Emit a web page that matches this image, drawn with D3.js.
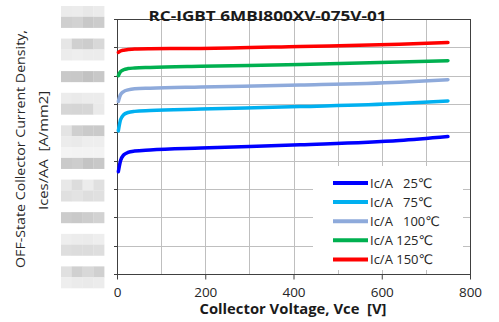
<!DOCTYPE html>
<html>
<head>
<meta charset="utf-8">
<script src="https://cdn.jsdelivr.net/npm/d3@7/dist/d3.min.js"></script>
<style>
  html, body { margin: 0; padding: 0; background: #fff; }
  svg { display: block; font-family: "Open Sans", "DejaVu Sans", sans-serif; }
  .legend-label { white-space: pre; }
</style>
</head>
<body>
<div id="chart"></div>
<script>
// voltage points (V) shared by all curves
const voltages = [3, 8, 15, 25, 40, 75, 190, 415, 640, 750];

// Ices/AA, in grid steps above the bottom line
const ices25 = [3.61, 4.00, 4.20, 4.29, 4.34, 4.38, 4.45, 4.56, 4.71, 4.85];
const ices75 = [5.05, 5.44, 5.62, 5.70, 5.74, 5.77, 5.82, 5.91, 6.02, 6.11];
const ices100 = [6.09, 6.33, 6.44, 6.50, 6.54, 6.56, 6.60, 6.67, 6.77, 6.86];
const ices125 = [7.00, 7.14, 7.21, 7.25, 7.27, 7.29, 7.33, 7.39, 7.48, 7.53];
const ices150 = [7.82, 7.87, 7.90, 7.92, 7.94, 7.95, 7.96, 8.03, 8.11, 8.17];

const seriesNames = ['Ic/A   25\u2103', 'Ic/A   75\u2103', 'Ic/A   100\u2103', 'Ic/A 125\u2103', 'Ic/A 150\u2103'];
const seriesColors = ['#0000ff', '#00b0f0', '#8eaadb', '#00b050', '#ff0000'];
const seriesValues = [ices25, ices75, ices100, ices125, ices150];

const xTicks = [0, 200, 400, 600, 800];
const xGrid = [100, 200, 300, 400, 500, 600, 700];
const yGrid = [0, 1, 2, 3, 4, 5, 6, 7, 8, 9];

// the y tick labels are blurred out in the source: grey mosaic rows, 4 cells each ('' = blank row)
const mosaicRows = [
  'ebece8eb', 'cfd2c8cc', '', 'e6d0cdd8', 'eceeecec', '', 'c9c8c2c8', '', 'eceaecec', 'd6d5d6ea',
  '', 'e4cfcaca', 'eceaeeee', 'f4f3f3f3', 'cacdc4c8', '', 'e8dcece0', 'e0e3dee0', '', 'ccc9cdd2',
  '', 'eeecebee', 'dedcdcde', '', 'e0d0d8d0', 'eeebeaec'
];

const W = 499, H = 322;
const margin = { top: 19, right: 29, bottom: 48, left: 117 };
const iw = W - margin.left - margin.right;
const ih = H - margin.top - margin.bottom;

const svg = d3.select('#chart').append('svg')
  .attr('width', W).attr('height', H);

const x = d3.scaleLinear().domain([0, 800]).range([margin.left, margin.left + iw]);
const y = d3.scaleLinear().domain([0, 9]).range([margin.top + ih, margin.top]);

// mosaic in place of y tick labels
const cellW = 10.8, cellH = 10.85, mosaicX = 61, mosaicY = 6;
mosaicRows.forEach((row, i) => {
  if (!row) return;
  for (let c = 0; c < 4; c++) {
    svg.append('rect')
      .attr('x', mosaicX + c * cellW).attr('y', mosaicY + i * cellH)
      .attr('width', cellW + 0.2).attr('height', cellH + 0.2)
      .attr('fill', '#' + row.substr(c * 2, 2).repeat(3));
  }
});

// grid
const grid = svg.append('g').attr('stroke', '#bfbfbf').attr('stroke-width', 1);
grid.selectAll('.gx').data(xGrid).enter().append('line')
  .attr('x1', d => Math.round(x(d)) + 0.5).attr('x2', d => Math.round(x(d)) + 0.5)
  .attr('y1', y(0)).attr('y2', y(9));
grid.selectAll('.gy').data(yGrid).enter().append('line')
  .attr('x1', x(0)).attr('x2', x(800))
  .attr('y1', d => Math.round(y(d)) + 0.5).attr('y2', d => Math.round(y(d)) + 0.5);

// frame
svg.append('rect')
  .attr('x', x(0) + 0.5).attr('y', Math.round(y(9)) + 0.5)
  .attr('width', Math.round(iw)).attr('height', Math.round(ih))
  .attr('fill', 'none').attr('stroke', '#404040').attr('stroke-width', 1);

// y ticks on the left
svg.append('g').selectAll('line').data(yGrid).enter().append('line')
  .attr('x1', x(0) - 3).attr('x2', x(0))
  .attr('y1', d => Math.round(y(d)) + 0.5).attr('y2', d => Math.round(y(d)) + 0.5)
  .attr('stroke', '#404040');

// x axis
const xAxis = svg.append('g')
  .attr('transform', `translate(0,${Math.round(y(0)) + 0.5})`)
  .call(d3.axisBottom(x).tickValues(xTicks).tickSize(5).tickPadding(8).tickFormat(d3.format('d')));
xAxis.select('.domain').remove();
xAxis.selectAll('line').attr('stroke', '#404040');
xAxis.selectAll('text').attr('font-size', 13.5).attr('fill', '#262626')
  .attr('font-family', '"Open Sans", sans-serif');

// curves
const line = d3.line()
  .x((d, i) => x(voltages[i]))
  .y(d => y(d))
  .curve(d3.curveMonotoneX);

svg.append('g').selectAll('path').data(seriesValues).enter().append('path')
  .attr('d', d => line(d))
  .attr('fill', 'none')
  .attr('stroke', (d, i) => seriesColors[i])
  .attr('stroke-width', 3.5)
  .attr('stroke-linecap', 'round');

// legend
const legend = svg.append('g');
legend.append('rect')
  .attr('x', 313).attr('y', 166).attr('width', 150).attr('height', 104)
  .attr('fill', '#fff');
const rows = legend.selectAll('g').data(seriesNames).enter().append('g')
  .attr('transform', (d, i) => `translate(333,${183 + i * 19.1})`);
rows.append('line')
  .attr('x1', 0).attr('x2', 35)
  .attr('stroke', (d, i) => seriesColors[i])
  .attr('stroke-width', 4);
rows.append('text')
  .attr('class', 'legend-label')
  .attr('x', 37).attr('dy', '0.36em')
  .attr('font-size', 13).attr('fill', '#262626')
  .text(d => d);

// title
svg.append('text')
  .attr('x', 267.5).attr('y', 21)
  .attr('text-anchor', 'middle')
  .attr('font-size', 15).attr('font-weight', 'bold').attr('fill', '#1a1a1a')
  .attr('textLength', 238).attr('lengthAdjust', 'spacingAndGlyphs')
  .text('RC-IGBT 6MBI800XV-075V-01');

// x title
svg.append('text')
  .attr('x', 293).attr('y', 314)
  .attr('text-anchor', 'middle')
  .attr('font-size', 13.5).attr('font-weight', 'bold').attr('fill', '#1a1a1a')
  .attr('textLength', 187).attr('lengthAdjust', 'spacingAndGlyphs')
  .style('white-space', 'pre')
  .text('Collector Voltage, Vce  [V]');

// y title, two lines
const yTitle = svg.append('text')
  .attr('transform', 'translate(25,149) rotate(-90)')
  .attr('text-anchor', 'middle')
  .attr('font-size', 13).attr('fill', '#262626')
  .style('white-space', 'pre');
yTitle.append('tspan').attr('x', 0).attr('y', 0)
  .attr('textLength', 238).attr('lengthAdjust', 'spacingAndGlyphs')
  .text('OFF-State Collector Current Density,');
yTitle.append('tspan').attr('x', -1.5).attr('y', 23)
  .attr('textLength', 119).attr('lengthAdjust', 'spacingAndGlyphs')
  .text('Ices/AA  [A/mm2]');
</script>
</body>
</html>
